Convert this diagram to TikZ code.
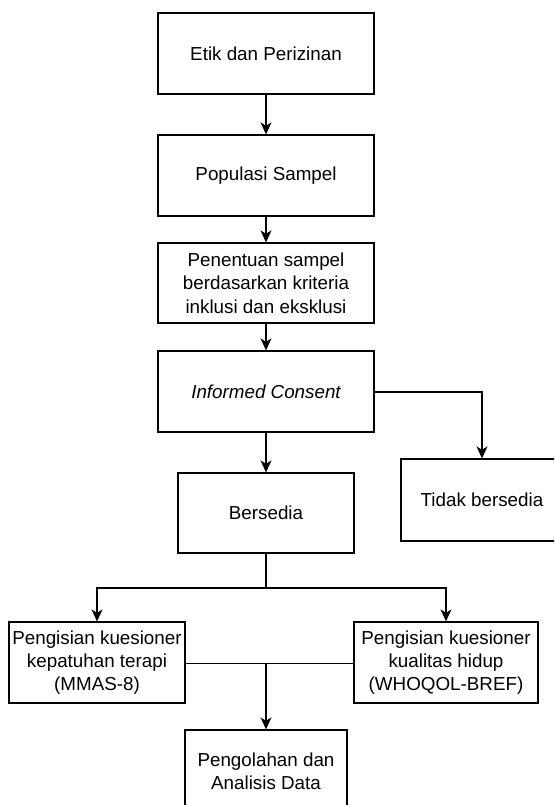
\documentclass[tikz,border=0pt]{standalone}
\usepackage{fontspec}
\setmainfont{Liberation Sans}
\usetikzlibrary{arrows.meta}
\tikzset{
  box/.style={draw=black, line width=1.3pt, minimum width=#1, align=center, inner sep=0pt, font=\fontsize{18.8}{23.3}\selectfont},
  arr/.style={line width=1.3pt, -{Stealth[length=12pt,width=11pt,inset=3.5pt]}},
  ln/.style={line width=1.3pt},
  thinln/.style={line width=0.8pt}
}
\begin{document}
\begin{tikzpicture}[x=1pt,y=-1pt]
\path[use as bounding box, clip] (0,0) rectangle (554,805);
\fill[white] (0,0) rectangle (554,805);

\node[box=216pt, minimum height=81pt] (b1) at (266,53.5) {Etik dan Perizinan};
\node[box=216pt, minimum height=81pt] (b2) at (266,175.5) {Populasi Sampel};
\node[box=216pt, minimum height=80pt] (b3) at (266,283) {Penentuan sampel\\berdasarkan kriteria\\inklusi dan eksklusi};
\node[box=216pt, minimum height=81pt] (b4) at (266,391.5) {\itshape Informed Consent};
\node[box=176pt, minimum height=80pt] (b5) at (266,513) {Bersedia};
\node[box=162pt, minimum height=82pt] (b6) at (482,500) {Tidak bersedia};
\node[box=176pt, minimum height=81pt] (b7) at (97,662.5) {Pengisian kuesioner\\kepatuhan terapi\\(MMAS-8)};
\node[box=184pt, minimum height=81pt] (b8) at (446,662.5) {Pengisian kuesioner\\kualitas hidup\\(WHOQOL-BREF)};
\node[box=162pt, minimum height=82pt] (b9) at (266,771) {Pengolahan dan\\Analisis Data};

\coordinate (split) at (266,588);
\coordinate (mid) at (266,663);

\draw[arr] (b1) -- (b2);
\draw[arr] (b2) -- (b3);
\draw[arr] (b3) -- (b4);
\draw[arr] (b4) -- (b5);
\draw[arr] (b4.east |- 0,392) -| (b6.north);
\draw[ln] (b5.south) -- (split);
\draw[arr] (split) -| (b7.north);
\draw[arr] (split) -| (b8.north);
\draw[thinln] (b7.east |- mid) -- (b8.west |- mid);
\draw[arr] (mid) -- (b9.north);
\end{tikzpicture}
\end{document}
